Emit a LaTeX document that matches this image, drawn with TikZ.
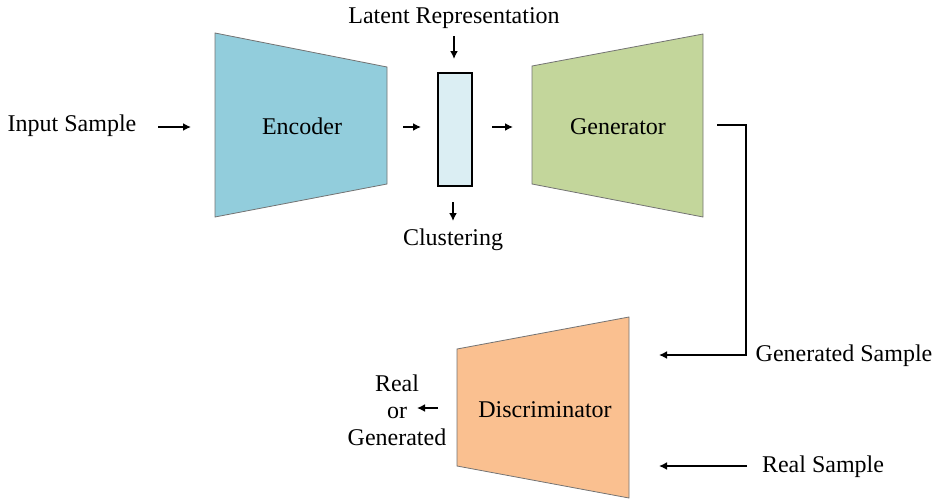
\documentclass[tikz,border=0pt]{standalone}
\usepackage{fontspec}
\setmainfont{Liberation Serif}
\usetikzlibrary{arrows.meta,calc,positioning}
\definecolor{encblue}{HTML}{92CDDC}
\definecolor{gengreen}{HTML}{C3D69B}
\definecolor{disorange}{HTML}{FAC090}
\definecolor{latcyan}{HTML}{DBEEF3}
\tikzstyle{lbl}=[font=\fontsize{12}{13.5}\selectfont,inner sep=0pt,align=center]
\tikzstyle{arr}=[-{Latex[length=4pt,width=4pt]},line width=0.9pt]
\tikzstyle{trap}=[draw=black!55,line width=0.4pt]
\tikzset{
	lat/.style={rectangle,draw=black,line width=0.9pt,fill=latcyan,minimum width=17pt,minimum height=56.5pt,inner sep=0pt}
}

\begin{document}
\begin{tikzpicture}[x=0.5pt,y=-0.5pt]
	\useasboundingbox (0,0) rectangle (947,503);
	% blocks
	\filldraw[trap,fill=encblue] (215,33) -- (387,67) -- (387,184) -- (215,217) -- cycle;
	\filldraw[trap,fill=gengreen] (532,66) -- (703,34) -- (703,217) -- (532,184) -- cycle;
	\filldraw[trap,fill=disorange] (457,349) -- (629,317) -- (629,498) -- (457,466) -- cycle;
	\node (enc) at (302,126) [lbl] {Encoder};
	\node (gen) at (618,127) [lbl] {Generator};
	\node (dis) at (545,410) [lbl] {Discriminator};
	\node (z) at (455,129.5) [lat] {};
	% labels
	\node (inp) at (72,126) [lbl] {Input Sample};
	\node (rep) at (454,18) [lbl] {Latent Representation};
	\node (clu) at (453,240) [lbl] {Clustering};
	\node (gs) at (844,356) [lbl] {Generated Sample};
	\node (rs) at (823,467) [lbl] {Real Sample};
	\node (out) at (397,410) [lbl] {Real\\or\\Generated};
	% arrow ends
	\coordinate (a1) at (158,127);  \coordinate (a2) at (191,127);
	\coordinate (b1) at (403,127);  \coordinate (b2) at (421,127);
	\coordinate (c1) at (492,127);  \coordinate (c2) at (513,127);
	\coordinate (r1) at (454,36);   \coordinate (r2) at (454,59);
	\coordinate (k1) at (453,202);  \coordinate (k2) at (453,221);
	\coordinate (g1) at (717,125);  \coordinate (g2) at (746,355);  \coordinate (g3) at (659,355);
	\coordinate (s1) at (747,466);  \coordinate (s2) at (659,466);
	\coordinate (o1) at (438,408);  \coordinate (o2) at (417,408);
	\draw[arr] (a1) -- (a2);
	\draw[arr] (b1) -- (b2);
	\draw[arr] (c1) -- (c2);
	\draw[arr] (r1) -- (r2);
	\draw[arr] (k1) -- (k2);
	\draw[arr] (g1) -| (g2) -- (g3);
	\draw[arr] (s1) -- (s2);
	\draw[arr] (o1) -- (o2);
\end{tikzpicture}
\end{document}
